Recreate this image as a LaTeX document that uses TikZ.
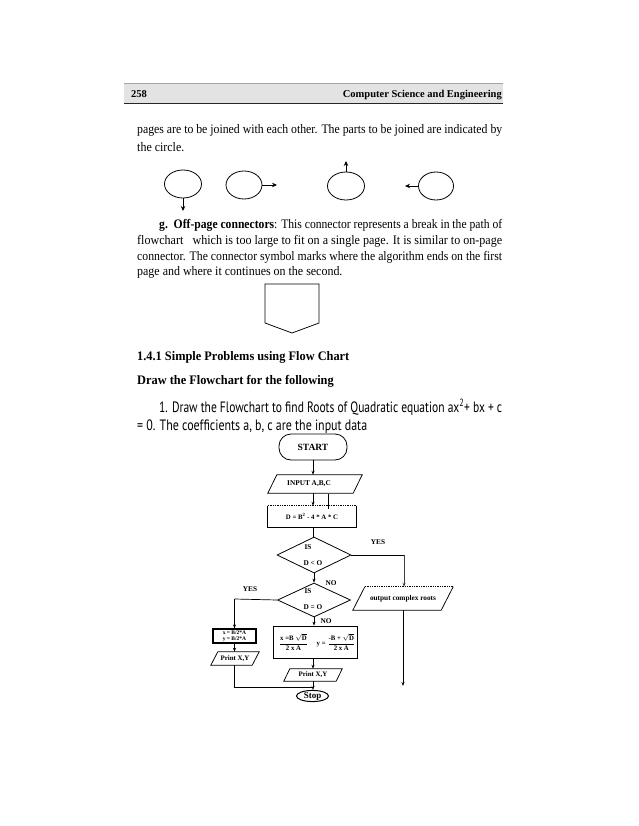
\documentclass[tikz,border=0pt]{standalone}
\usepackage{fontspec}
\usepackage{graphicx}
\setmainfont{Liberation Serif}
\newfontfamily\sansf{PT Sans}
\usetikzlibrary{shapes.geometric,arrows.meta}
\tikzset{
  line/.style={line width=0.75pt, draw=black},
  arr/.style={line width=0.7pt, -{Stealth[length=4pt,width=3pt]}},
  tarr/.style={line width=0.9pt, -{Stealth[length=5pt,width=4.5pt]}},
  conn/.style={ellipse, draw, line width=0.8pt, minimum width=37pt, minimum height=28pt, inner sep=0pt},
  body/.style={anchor=base west, inner sep=0pt, font=\fontsize{13}{15}\selectfont},
  ghost/.style={draw=none, inner sep=0pt, rectangle},
  fc/.style={inner sep=0pt, font=\fontsize{7.3}{8}\selectfont\bfseries},
  fcs/.style={inner sep=0pt, font=\fontsize{6.8}{7.2}\selectfont\bfseries},
}
\begin{document}
\begin{tikzpicture}[x=1pt,y=-1pt]
\useasboundingbox (0,0) rectangle (638,826);
\fill[white] (0,0) rectangle (638,826);

% header
\fill[gray!22] (124,84) rectangle (503,103);
\draw[gray!70, line width=1pt] (124,84) -- (503,84);
\draw[black!85, line width=1.6pt] (124,103.5) -- (503,103.5);
\node[anchor=base west, inner sep=0pt, font=\fontsize{10.5}{12}\selectfont\bfseries] (pg) at (131,98) {258};
\node[anchor=base east, inner sep=0pt, font=\fontsize{10.5}{12}\selectfont\bfseries] (hd) at (502,98) {Computer Science and Engineering};

% paragraph 1
\node[body] (p1) at (137,134) {\resizebox{365pt}{\height}{pages are to be joined with each other. The parts to be joined are indicated by}};
\node[body] (p2) at (137,151.5) {\scalebox{0.92}[1]{the circle.}};

% on-page connectors
\node[conn] (e1) at (183,184) {};
\coordinate (e1t) at (183,211);
\draw[tarr] (e1.south) -- (e1t);
\node[conn, minimum width=36pt] (e2) at (244,185) {};
\coordinate (e2t) at (277,185);
\draw[tarr] (e2.east) -- (e2t);
\node[conn] (e3) at (346,186) {};
\coordinate (e3t) at (346,161);
\draw[tarr] (e3.north) -- (e3t);
\node[conn, minimum width=35pt] (e4) at (436,186) {};
\coordinate (e4t) at (405,186);
\draw[tarr] (e4.west) -- (e4t);

% paragraph g
\node[body] (g1) at (159,229) {\resizebox{343pt}{\height}{\textbf{g.\ \ Off-page connectors}: This connector represents a break in the path of}};
\node[body] (g2) at (137,244.5) {\resizebox{365pt}{\height}{flowchart \ \ which is too large to fit on a single page. It is similar to on-page}};
\node[body] (g3) at (137,260) {\resizebox{365pt}{\height}{connector. The connector symbol marks where the algorithm ends on the first}};
\node[body] (g4) at (137,275) {\scalebox{0.92}[1]{page and where it continues on the second.}};

% off-page connector
\draw[line] (265,284) -- (319,284) -- (319,323) -- (292,333) -- (265,323) -- cycle;

% headings
\node[body, font=\fontsize{13}{15}\selectfont\bfseries] (h1) at (137,360.5) {\scalebox{0.95}[1]{1.4.1 Simple Problems using Flow Chart}};
\node[body, font=\fontsize{13}{15}\selectfont\bfseries] (h2) at (137,384.5) {\scalebox{0.95}[1]{Draw the Flowchart for the following}};
\node[body, font=\fontsize{15}{17}\selectfont\sansf] (s1) at (159,412) {\resizebox{343pt}{\height}{1. Draw the Flowchart to find Roots of Quadratic equation ax\textsuperscript{2}+ bx + c}};
\node[body, font=\fontsize{15}{17}\selectfont\sansf] (s2) at (137,430) {\resizebox{230pt}{\height}{= 0. The coefficients a, b, c are the input data}};

% flowchart
\node[draw, line width=0.8pt, rounded corners=12pt, minimum width=68pt, minimum height=26pt, inner sep=0pt, font=\fontsize{9.5}{10}\selectfont\bfseries] (start) at (313,447) {START};

\node[ghost, minimum width=85pt, minimum height=18pt] (inp) at (315,484) {};
\node[fc] (inpt) at (309,484) {INPUT A,B,C};
\draw[line] ([xshift=4.5pt]inp.north west) -- ([xshift=4.5pt]inp.north east) -- ([xshift=-4.5pt]inp.south east) -- ([xshift=-4.5pt]inp.south west) -- cycle;

\node[ghost, minimum width=88pt, minimum height=21pt, fcs] (dbox) at (312,516.5) {D = B\textsuperscript{2} - 4 * A * C};
\draw[line, densely dotted] (dbox.north west) -- (dbox.north east);
\draw[line] (dbox.north east) -- (dbox.south east) -- (dbox.south west) -- (dbox.north west);

\draw[arr] (start.south) -- (start.south |- inp.north);
\draw[arr] (inp.south -| start.south) -- (start.south |- dbox.north);
\coordinate (st1) at (328,494);
\coordinate (st2) at (328,509);
\draw[line, line width=0.6pt] (st1) -- (st2);

\node[diamond, draw, line width=0.8pt, minimum width=74pt, minimum height=36pt, inner sep=0pt] (d1) at (314,555) {};
\node[fc] (d1a) at (308,547) {IS};
\node[fc] (d1b) at (313,563) {D < O};
\draw[line] (start.south |- dbox.south) -- (start.south |- d1.north);

\node[diamond, draw, line width=0.8pt, minimum width=73pt, minimum height=34pt, inner sep=0pt] (d2) at (314,600) {};
\node[fc] (d2a) at (308,591) {IS};
\node[fc] (d2b) at (313,607) {D = O};
\draw[arr] (d1.south) -- (d2.north);

% YES branch right
\node[ghost, minimum width=88pt, minimum height=23pt, fc] (out) at (403,598.5) {output complex roots};
\draw[line, densely dotted] ([xshift=6pt]out.north west) -- ([xshift=6pt]out.north east);
\draw[line] ([xshift=6pt]out.north east) -- ([xshift=-6pt]out.south east) -- ([xshift=-6pt]out.south west) -- ([xshift=6pt]out.north west);
\coordinate (yc) at (404,555);
\draw[line, line width=0.7pt] (d1.east) -- (yc);
\draw[arr, black!75] (yc) -- (yc |- out.north);
\coordinate (oe) at (403,686);
\draw[arr] (out.south) -- (oe);
\node[fc] (yes1) at (378,542) {YES};
\node[fc] (no1) at (331,583) {NO};

% YES branch left
\node[fc] (yes2) at (250,589) {YES};
\node[draw, line width=1.1pt, minimum width=43pt, minimum height=14pt, inner sep=0pt, align=center, font=\fontsize{5.5}{5.8}\selectfont\bfseries] (xy) at (234.5,636) {x = B/2*A\\y = B/2*A};
\coordinate (lc) at (234.5,599);
\draw[line, line width=0.7pt] (d2.west) -- (lc);
\draw[arr] (lc) -- (xy.north);
\node[ghost, minimum width=41pt, minimum height=13pt, font=\fontsize{6.9}{7}\selectfont\bfseries] (pl) at (235,658.5) {Print X,Y};
\draw[line] ([xshift=3.5pt]pl.north west) -- ([xshift=3.5pt]pl.north east) -- ([xshift=-3.5pt]pl.south east) -- ([xshift=-3.5pt]pl.south west) -- cycle;
\draw[arr] (xy.south) -- (xy.south |- pl.north);

% NO branch
\node[fc] (no2) at (326,621) {NO};
\node[draw, line width=0.8pt, minimum width=84pt, minimum height=32pt, inner sep=0pt] (bb) at (315,642) {};
\draw[arr] (d2.south) -- (d2.south |- bb.north);
\node[fcs] (fx) at (293.5,642.5) {$\displaystyle\frac{\mbox{x =B }\sqrt{\mbox{D}}}{\mbox{2 x A}}$};
\node[fcs] (fy) at (336,642.5) {\mbox{y = }$\displaystyle\frac{\mbox{-B + }\sqrt{\mbox{D}}}{\mbox{2 x A}}$};

\node[ghost, minimum width=52pt, minimum height=12pt, font=\fontsize{6.9}{7}\selectfont\bfseries] (pc) at (313,675) {Print X,Y};
\draw[line] ([xshift=3pt]pc.north west) -- ([xshift=3pt]pc.north east) -- ([xshift=-3pt]pc.south east) -- ([xshift=-3pt]pc.south west) -- cycle;
\draw[arr] (pc.north |- bb.south) -- (pc.north);

\node[ellipse, draw, line width=1pt, minimum width=32pt, minimum height=11pt, inner sep=0pt, font=\fontsize{9}{9}\selectfont\bfseries] (stop) at (312.5,696) {Stop};
\draw[arr] (pc.south) -- (pc.south |- stop.north);

\coordinate (lb) at (234.5,687);
\draw[line, line width=0.7pt] (pl.south -| xy.south) -- (lb) -- (lb -| pc.south);
\end{tikzpicture}
\end{document}
